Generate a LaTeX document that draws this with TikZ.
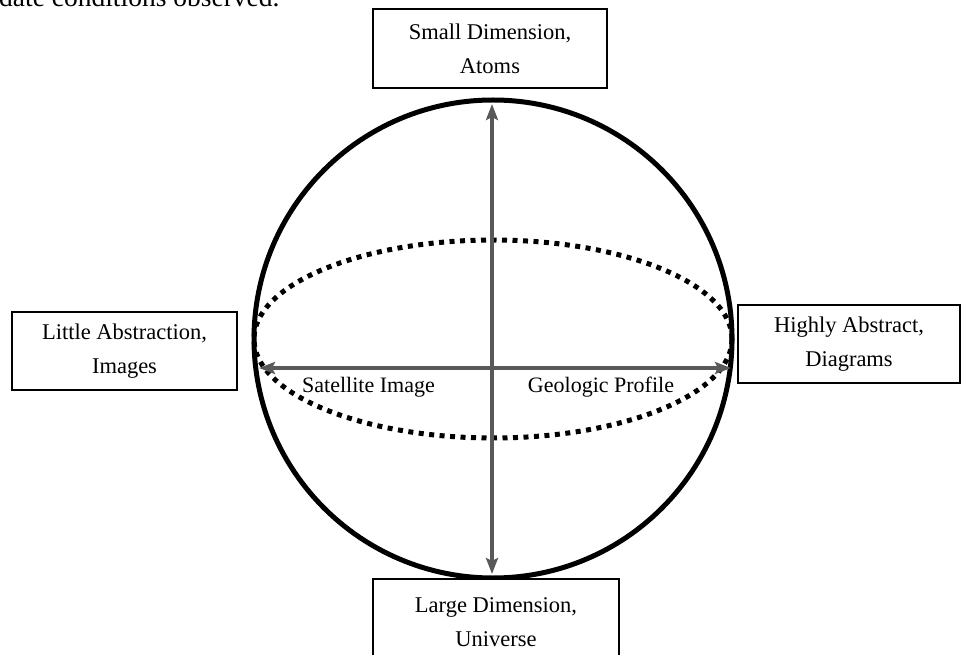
\documentclass[tikz,border=0pt]{standalone}
\usepackage{fontspec}
\setmainfont{Liberation Serif}
\usetikzlibrary{arrows.meta}
\begin{document}
\begin{tikzpicture}[x=1pt,y=-1pt,
  labelbox/.style={draw=black,line width=2.4pt,fill=white,align=center,
    inner sep=0pt,font=\fontsize{22.5}{34}\selectfont},
  axisarrow/.style={draw=black!65,line width=3.5pt,
    {Stealth[length=16pt,width=12pt,inset=3pt]}-{Stealth[length=16pt,width=12pt,inset=3pt]}},
  axislabel/.style={font=\fontsize{22}{26}\selectfont,anchor=base,inner sep=0pt},
  equator/.style={line width=5pt,dash pattern=on 5pt off 5.5pt},
  rim/.style={line width=5pt}]
\useasboundingbox (0,0) rectangle (962,655);
\fill[white] (0,0) rectangle (962,655);

% running text above the figure
\node[anchor=base west,inner sep=0pt,font=\fontsize{27.5}{30}\selectfont]
  (runtext) at (-1,6.5) {date conditions observed.};

% sphere and its dotted equator
\draw[equator] (493,339) ellipse [x radius=239, y radius=99];
\draw[rim] (493,339) circle [radius=239];

% ends of the two axes
\coordinate (vtop) at (492,104);
\coordinate (vbot) at (492,574);
\coordinate (hleft) at (259,368);
\coordinate (hright) at (731,368);

\draw[axisarrow] (vtop) -- (vbot);
\draw[axisarrow] (hleft) -- (hright);

\node[axislabel] (sat) at (368.5,392) {Satellite Image};
\node[axislabel] (geo) at (601,392) {Geologic Profile};

% labelled boxes at the four poles
\node[labelbox,minimum width=234,minimum height=79] (small) at (490,48.5)
  {Small Dimension,\\Atoms};
\node[labelbox,minimum width=225,minimum height=78] (little) at (124.5,351)
  {Little Abstraction,\\Images};
\node[labelbox,minimum width=222,minimum height=78] (high) at (849,344)
  {Highly Abstract,\\Diagrams};
\node[labelbox,minimum width=246,minimum height=86] (large) at (496,622)
  {Large Dimension,\\Universe};
\end{tikzpicture}
\end{document}
